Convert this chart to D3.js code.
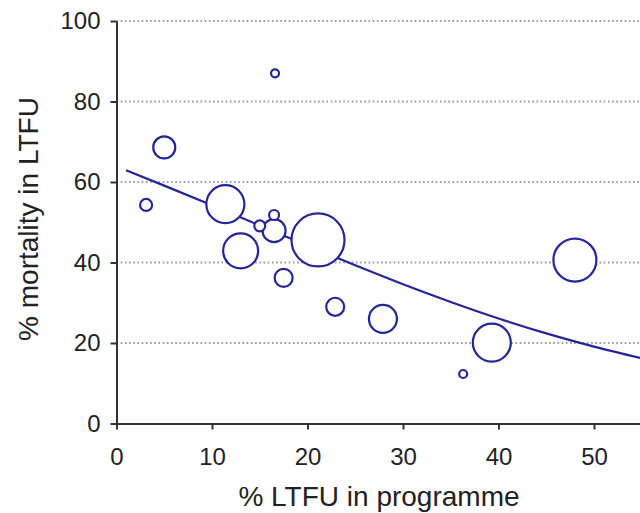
<!DOCTYPE html>
<html>
<head>
<meta charset="utf-8">
<script src="https://cdn.jsdelivr.net/npm/d3@7/dist/d3.min.js"></script>
<style>
  html, body { margin: 0; padding: 0; background: #fff; }
  svg { display: block; }
  text { font-family: "Liberation Sans", Arial, sans-serif; fill: #222; }
</style>
</head>
<body>
<svg id="chart" width="640" height="513"></svg>
<script>
// ---- data ----
const ltfuProgramme = [3.1, 5.0, 16.6, 11.4, 15.0, 16.5, 16.5, 21.1, 13.0, 17.5, 22.9, 27.9, 39.3, 36.3, 48.0];
const mortalityLtfu = [54.3, 68.6, 87.0, 54.5, 49.1, 51.8, 47.9, 45.6, 42.9, 36.2, 29.0, 26.0, 20.1, 12.3, 40.6];
const cohortSize    = [36, 121, 16, 361, 30, 25, 132, 702, 306, 81, 81, 196, 361, 16, 462];

const fitX = [1, 5, 10, 15, 20, 25, 30, 35, 40, 45, 50, 55];
const fitY = [62.9, 59.1, 54.2, 49.2, 44.2, 39.3, 34.6, 30.2, 26.1, 22.4, 19.1, 16.2];

const xTicks = [0, 10, 20, 30, 40, 50];
const yTicks = [0, 20, 40, 60, 80, 100];
const xTitle = "% LTFU in programme";
const yTitle = "% mortality in LTFU";

// ---- layout ----
const svg = d3.select("#chart");
const W = 640, H = 513;
const x = d3.scaleLinear().domain([0, 50]).range([116.5, 594]);
const y = d3.scaleLinear().domain([0, 100]).range([423.5, 21]);
const r = d3.scaleSqrt().domain([0, 702]).range([0, 26.5]);
const xMaxPx = W;
const blue = "#25259a";

svg.append("defs").append("clipPath").attr("id", "plotclip")
  .append("rect").attr("x", x(0)).attr("y", 0).attr("width", xMaxPx - x(0)).attr("height", y(0));

// gridlines
svg.append("g").selectAll("line").data(yTicks.filter(d => d > 0)).join("line")
  .attr("x1", x(0)).attr("x2", xMaxPx)
  .attr("y1", d => y(d)).attr("y2", d => y(d))
  .attr("stroke", "#9a9a9a").attr("stroke-width", 2)
  .attr("stroke-dasharray", "1.6,2.6");

// fitted curve
const pts = fitX.map((v, i) => [v, fitY[i]]);
svg.append("path")
  .datum(pts)
  .attr("clip-path", "url(#plotclip)")
  .attr("fill", "none").attr("stroke", blue).attr("stroke-width", 2.2)
  .attr("d", d3.line().x(d => x(d[0])).y(d => y(d[1])).curve(d3.curveMonotoneX));

// bubbles
const pointsData = ltfuProgramme.map((v, i) => ({ x: v, y: mortalityLtfu[i], n: cohortSize[i] }))
  .sort((a, b) => b.n - a.n);
svg.append("g").selectAll("circle").data(pointsData).join("circle")
  .attr("cx", d => x(d.x)).attr("cy", d => y(d.y)).attr("r", d => r(d.n))
  .attr("fill", "#fff").attr("stroke", blue).attr("stroke-width", 2.2);

// axes
const yAxis = d3.axisLeft(y).tickValues(yTicks).tickSize(6).tickSizeOuter(0).tickPadding(10);
const gy = svg.append("g").attr("transform", `translate(${x(0)},0)`).call(yAxis);
gy.selectAll("text").style("font-size", "24px").attr("fill", "#222");

const xAxisScale = d3.scaleLinear().domain([0, 55]).range([x(0), x(55)]);
const xAxis = d3.axisBottom(xAxisScale).tickValues(xTicks).tickSize(6).tickSizeOuter(0).tickPadding(18.5);
const gx = svg.append("g").attr("transform", `translate(0,${y(0)})`).call(xAxis);
gx.selectAll("text").style("font-size", "24px").attr("fill", "#222");

[gx, gy].forEach(g => {
  g.select(".domain").attr("stroke", "#333").attr("stroke-width", 2);
  g.selectAll(".tick line").attr("stroke", "#333").attr("stroke-width", 2);
});

// titles
svg.append("text").attr("x", 379).attr("y", 506)
  .attr("text-anchor", "middle").style("font-size", "28px").text(xTitle);
svg.append("text").attr("transform", "translate(38,219) rotate(-90)")
  .attr("text-anchor", "middle").style("font-size", "28px").text(yTitle);
</script>
</body>
</html>
